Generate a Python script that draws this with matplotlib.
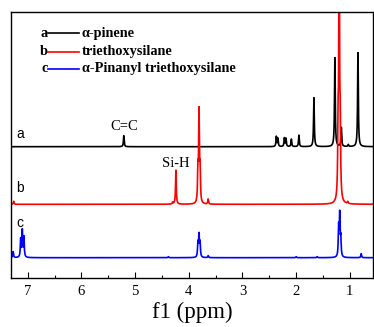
import numpy as np
import matplotlib
matplotlib.use("Agg")
import matplotlib.pyplot as plt
from matplotlib.ticker import MultipleLocator

# ---- data (ppm positions, peak heights in plot units) ----
a_pos = [5.21, 2.37, 2.34, 2.22, 2.19, 2.09, 1.95, 1.67, 1.28, 1.16, 1.03, 0.85]
a_hgt = [11, 10, 8, 8.5, 8, 7.5, 11.5, 49, 89, 19, 2, 94]
b_pos = [7.26, 4.30, 4.24, 3.83, 3.81, 3.79, 3.64, 1.22, 1.20, 1.18, 1.04]
b_hgt = [3, 2, 34, 31, 89, 31, 5, 62, 300, 62, 2]
c_pos = [7.27, 7.13, 7.10, 7.07, 4.38, 3.83, 3.81, 3.79, 3.64, 2.00, 1.61, 1.21, 1.19, 1.17, 0.79]
c_hgt = [6, 18, 26.5, 20, 1, 14, 21.5, 14, 2, 1, 1, 29, 41, 18, 4]
offsets = [131.3, 73.7, 20.3]
colors = ["black", "red", "blue"]
trace_labels = ["a", "b", "c"]
legend_names = ["α-pinene", "triethoxysilane", "α-Pinanyl triethoxysilane"]
x_ticks = [7, 6, 5, 4, 3, 2, 1]

ppm = np.linspace(7.3, 0.57, 8000)
hw = 0.008


def spectrum(pos, hgt):
    y = np.zeros_like(ppm)
    for p, h in zip(pos, hgt):
        y += h * hw**2 / ((ppm - p) ** 2 + hw**2)
    return y


fig = plt.figure(figsize=(3.74, 3.27), dpi=100)
ax = fig.add_axes([11 / 374, 49 / 327, 362 / 374, 266 / 327])

serif = ["Liberation Serif", "DejaVu Serif"]
sans = ["Liberation Sans", "DejaVu Sans"]

for pos, hgt, off, col in zip([a_pos, b_pos, c_pos], [a_hgt, b_hgt, c_hgt], offsets, colors):
    ax.plot(ppm, spectrum(pos, hgt) + off, color=col, lw=1.2)

ax.set_xlim(7.31, 0.57)
ax.set_ylim(0, 266)
ax.set_yticks([])
ax.set_xticks(x_ticks)
ax.xaxis.set_minor_locator(MultipleLocator(0.5))
ax.tick_params(axis="x", which="major", direction="in", length=4, width=0.8, pad=5, labelsize=10.5)
ax.tick_params(axis="x", which="minor", direction="in", length=2, width=0.8)
for lab in ax.get_xticklabels():
    lab.set_family(serif)
for s in ax.spines.values():
    s.set_linewidth(1.0)
ax.set_xlabel("f1 (ppm)", family=serif, fontsize=16.5, labelpad=3)

# trace letters
for lbl, yy in zip(trace_labels, [0.541, 0.338, 0.207]):
    ax.text(0.014, yy, lbl, transform=ax.transAxes, family=sans, fontsize=10, va="center", ha="left")

# annotations
ax.text(5.21, 0.569, "C=C", transform=ax.get_xaxis_transform(), family=serif, fontsize=10.5, ha="center", va="center")
ax.text(4.24, 0.429, "Si-H", transform=ax.get_xaxis_transform(), family=serif, fontsize=10.5, ha="center", va="center")

# legend drawn manually
for lbl, name, col, yy in zip(trace_labels, legend_names, colors, [0.921, 0.850, 0.786]):
    ax.text(0.102, yy, lbl, transform=ax.transAxes, family=serif, fontweight="bold", fontsize=10.3, ha="right", va="center")
    ax.plot([0.102, 0.188], [yy, yy], transform=ax.transAxes, color=col, lw=1.2)
    ax.text(0.196, yy, name, transform=ax.transAxes, family=serif, fontweight="bold", fontsize=10.3, ha="left", va="center")

fig.savefig("out.png", dpi=100)
